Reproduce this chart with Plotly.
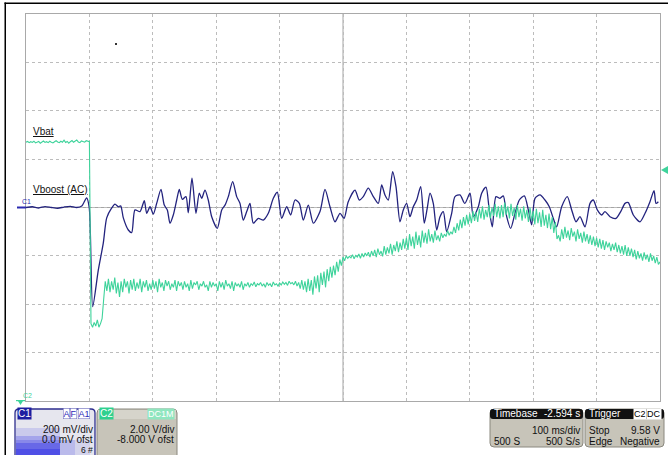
import plotly.graph_objects as go

# ---------------- data ----------------
# C1: Vboost (AC), 200 mV/div ; time in ms across 10 divisions of 100 ms
c1_time_ms = [0, 10, 20, 30, 40, 50, 60, 70, 80, 88,
              95.7, 99.8, 105.2, 114, 121.9, 127.3, 135.2, 140.4, 145.6, 149.4,
              153.5, 161.4, 166.7, 171.9, 179.8, 186.6, 190.4, 195.6, 200.8, 206.1,
              212.9, 218.1, 222.9, 227.1, 232.3, 237.7, 241.8, 246.5, 252.3, 256,
              261.8, 268.1, 273.3, 277.1, 282.3, 287.5, 292.9, 301.7, 308.7, 313.9,
              319.1, 326, 332.3, 337.5, 342.7, 348.1, 353.3, 358.5, 366.4, 374.3,
              382.2, 390.1, 396.4, 403.3, 411.2, 417.5, 424.3, 431.1, 437.4, 445.3,
              453.2, 463.7, 471.6, 479.5, 487.4, 495.3, 501.6, 508.3, 518.9, 525.7,
              532, 539.9, 547.8, 555.7, 561, 566.2, 571.4, 578.3, 583.6, 589.9,
              595.1, 600.4, 605.6, 610.8, 616.2, 622.5, 628.2, 632.9, 637.2, 642.4,
              647.8, 653, 658.2, 663.5, 671.4, 676.6, 684.5, 692.2, 700.3, 705.5,
              713.4, 718.7, 725.5, 730.7, 735.5, 741.3, 747.6, 752.8, 758.2, 764.5,
              771.3, 778.1, 786, 792.3, 797.6, 802.8, 810.7, 818.6, 825.4, 831.7,
              837, 844.9, 853.8, 860.7, 867.5, 873.8, 881.7, 889.6, 894.8, 901.1,
              908, 913.2, 921.1, 930.6, 938, 944.8, 950, 957.9, 968.5, 976.4,
              984.2, 990.6, 993.7, 997.4]
c1_mv = [0, 3, -2, 4, 0, -3, 2, 5, 0, 6,
         40, -2, -410, -259, -147, -43, -2, 14, 3, 7,
         -43, -93, -104, -10, -17, 28, -24, 3, -27, 17,
         75, 10, -10, -65, -31, 31, 75, 34, 45, -22,
         121, -24, 59, 38, 72, 31, -38, -86, -10, 10,
         45, 107, 45, 17, -52, -17, 17, -65, -45, -52,
         -24, 38, 63, -45, 3, -31, 31, 17, -52, 10,
         -65, -17, 75, 3, -59, -24, -45, 24, 72, 31,
         45, 80, 45, 17, 93, 52, 31, 148, 86, -59,
         -10, 17, -38, 3, 31, 86, -65, -3, 59, 17,
         -93, -38, -17, -100, -24, 45, 52, 17, 59, -38,
         3, 59, 84, -10, -80, 45, 38, 48, -38, -86,
         -24, 31, 48, -10, -72, 38, 52, 31, 3, -45,
         -80, 3, 45, -10, -59, -38, -80, 17, 31, -10,
         -31, -17, -38, -45, -17, 17, 20, -31, -59, -24,
         24, 70, 17, 24]

# C2: Vbat, 2 V/div, -8 V offset ; sampled every 2.5 ms from 0 to 1000 ms
c2_t0_ms = 0
c2_dt_ms = 2.5
c2_volts = [
    10.70, 10.73, 10.68, 10.72, 10.69, 10.74, 10.67, 10.71, 10.73, 10.66, 10.70, 10.75, 10.69, 10.72, 10.68, 10.74, 10.70, 10.67, 10.72, 10.76,
    10.71, 10.68, 10.74, 10.70, 10.78, 10.69, 10.73, 10.66, 10.72, 10.77, 10.70, 10.74, 10.79, 10.71, 10.68, 10.75, 10.72, 10.70, 10.76, 10.73,
    10.72, 3.20, 3.05, 3.25, 3.10, 3.35, 3.05, 3.20, 3.40, 4.20, 4.95, 4.55, 5.05, 4.50, 4.95, 4.60, 5.10, 4.45, 4.90, 4.30,
    4.95, 4.50, 5.05, 4.70, 4.95, 4.45, 5.00, 4.60, 5.05, 4.55, 4.90, 4.65, 5.05, 4.50, 4.95, 4.70, 5.00, 4.55, 4.85, 4.60,
    5.00, 4.65, 4.95, 4.50, 5.05, 4.70, 4.90, 4.55, 5.00, 4.75, 4.95, 4.60, 4.85, 4.70, 5.00, 4.55, 4.95, 4.75, 4.90, 4.60,
    4.95, 4.70, 4.85, 4.55, 5.00, 4.65, 4.90, 4.80, 4.95, 4.60, 4.85, 4.75, 4.95, 4.70, 4.80, 4.55, 4.95, 4.70, 4.90, 4.75,
    4.85, 4.55, 4.95, 4.70, 4.90, 4.60, 5.00, 4.75, 4.85, 4.65, 4.95, 4.55, 4.90, 4.75, 4.85, 4.70, 4.95, 4.60, 4.85, 4.75,
    4.90, 4.70, 4.85, 4.78, 4.92, 4.72, 4.85, 4.80, 4.90, 4.75, 4.85, 4.70, 4.90, 4.78, 4.85, 4.72, 4.92, 4.80, 4.85, 4.75,
    4.88, 4.80, 4.92, 4.82, 4.90, 4.78, 4.95, 4.85, 4.90, 4.80, 4.95, 4.75, 4.90, 4.65, 5.00, 4.60, 4.95, 4.50, 5.05, 4.55,
    5.00, 4.40, 5.15, 4.65, 5.20, 4.50, 5.30, 4.80, 5.35, 4.70, 5.45, 4.95, 5.55, 5.10, 5.60, 5.20, 5.75, 5.35, 5.85, 5.60,
    5.95, 5.80, 6.00, 5.90, 5.98, 5.92, 6.05, 5.88, 6.02, 5.95, 6.08, 5.90, 6.10, 5.95, 6.12, 6.00, 6.15, 5.95, 6.20, 6.00,
    6.25, 5.95, 6.30, 6.05, 6.20, 5.98, 6.40, 6.05, 6.35, 6.10, 6.50, 6.05, 6.45, 6.20, 6.60, 6.15, 6.55, 6.25, 6.70, 6.30,
    6.75, 6.25, 6.90, 6.40, 6.80, 6.30, 7.00, 6.45, 6.85, 6.35, 7.05, 6.55, 6.95, 6.50, 7.10, 6.60, 6.90, 6.55, 7.05, 6.65,
    6.85, 6.60, 6.95, 6.75, 6.90, 6.80, 7.05, 6.85, 7.00, 6.90, 7.20, 6.95, 7.35, 7.05, 7.50, 7.15, 7.60, 7.25, 7.70, 7.30,
    7.75, 7.35, 7.85, 7.45, 7.80, 7.40, 7.95, 7.55, 8.05, 7.50, 7.90, 7.60, 8.10, 7.55, 8.00, 7.65, 8.15, 7.60, 8.05, 7.55,
    8.10, 7.60, 8.20, 7.70, 8.05, 7.55, 8.15, 7.65, 8.00, 7.50, 8.10, 7.60, 7.95, 7.45, 8.05, 7.55, 7.90, 7.40, 8.00, 7.45,
    7.85, 7.30, 7.95, 7.35, 7.80, 7.20, 7.90, 7.25, 7.70, 7.15, 7.75, 7.10, 7.60, 6.95, 7.40, 6.70, 6.85, 6.60, 7.10, 6.70,
    7.20, 6.75, 7.05, 6.65, 7.15, 6.80, 7.00, 6.60, 7.10, 6.70, 6.95, 6.55, 7.00, 6.60, 6.90, 6.50, 6.85, 6.45, 6.80, 6.40,
    6.75, 6.35, 6.70, 6.30, 6.65, 6.25, 6.60, 6.35, 6.55, 6.20, 6.50, 6.25, 6.55, 6.15, 6.45, 6.10, 6.40, 6.05, 6.45, 6.00,
    6.35, 6.00, 6.30, 5.95, 6.25, 5.85, 6.20, 5.90, 6.10, 5.80, 6.15, 5.85, 6.05, 5.75, 6.10, 5.80, 6.00, 5.70, 5.95, 5.65,
    5.75]

trace_labels = ["Vbat", "Vboost (AC)"]
c1_info = ["200 mV/div", "0.0 mV ofst", "6 #"]
c2_info = ["2.00 V/div", "-8.000 V ofst"]
timebase_info = ["Timebase", "-2.594 s", "100 ms/div", "500 S", "500 S/s"]
trigger_info = ["Trigger", "Stop", "9.58 V", "Edge", "Negative"]

# ---------------- layout geometry (pixels) ----------------
W, H = 668, 455
L, R, T, B = 26, 8, 14, 54
PW, PH = W - L - R, H - T - B
FONT = "Liberation Sans, Arial, sans-serif"
BLUE = "#23237e"
GREEN = "#3ed39b"


def X(px):
    return (px - L) / PW


def Y(py):
    return (H - B - py) / PH


def rrect(x0, y0, x1, y1, r):
    return (f"M{X(x0 + r)},{Y(y0)} L{X(x1 - r)},{Y(y0)} Q{X(x1)},{Y(y0)} {X(x1)},{Y(y0 + r)} "
            f"L{X(x1)},{Y(y1 - r)} Q{X(x1)},{Y(y1)} {X(x1 - r)},{Y(y1)} "
            f"L{X(x0 + r)},{Y(y1)} Q{X(x0)},{Y(y1)} {X(x0)},{Y(y1 - r)} "
            f"L{X(x0)},{Y(y0 + r)} Q{X(x0)},{Y(y0)} {X(x0 + r)},{Y(y0)} Z")


def prect(x0, y0, x1, y1, fill, **kw):
    return dict(type="rect", xref="paper", yref="paper", x0=X(x0), x1=X(x1), y0=Y(y1), y1=Y(y0),
                fillcolor=fill, line=dict(width=0), **kw)


fig = go.Figure()
fig.add_trace(go.Scatter(x0=c2_t0_ms, dx=c2_dt_ms, y=c2_volts, yaxis="y2", mode="lines",
                         line=dict(color=GREEN, width=1.1), hoverinfo="skip"))
fig.add_trace(go.Scatter(x=c1_time_ms, y=c1_mv, mode="lines",
                         line=dict(color=BLUE, width=1.3, shape="spline", smoothing=0.7),
                         hoverinfo="skip"))

grid = dict(showgrid=True, gridcolor="#bcbcbc", griddash="dot", gridwidth=1,
            showline=True, linecolor="#a9a9a9", linewidth=1, mirror=True,
            zeroline=False, showticklabels=False, ticks="")
tickax = dict(showgrid=False, zeroline=False, showline=False, showticklabels=False,
              ticklen=2, tickwidth=1, tickcolor="#a0a0a0", tickmode="linear")

shapes = []
annotations = []

# centre cross lines
shapes.append(dict(type="line", xref="x", yref="paper", x0=500, x1=500, y0=0, y1=1,
                   line=dict(color="#a4a4a4", width=1), layer="below"))
shapes.append(dict(type="line", xref="paper", yref="y", x0=0, x1=1, y0=0, y1=0,
                   line=dict(color="#a4a4a4", width=1), layer="below"))

# outer frame of the screenshot (left and top black borders)
shapes.append(prect(4.5, 2.5, 6, 460, "black"))
shapes.append(prect(4.5, 2.5, 670, 4, "black"))

# trace labels
annotations.append(dict(x=X(31), y=Y(131), text=f"<u>{trace_labels[0]}</u>", xanchor="left"))
annotations.append(dict(x=X(31), y=Y(190), text=f"<u>{trace_labels[1]}</u>", xanchor="left"))

# C1 marker at left
shapes.append(prect(17, 206.5, 26, 208.5, "#2a2ab0"))
annotations.append(dict(x=X(19.5), y=Y(201), text="C1", font=dict(size=7, color="#2a2ab0", family=FONT)))
# C2 ground marker
annotations.append(dict(x=X(20.5), y=Y(395), text="C2", font=dict(size=7, color=GREEN, family=FONT)))
shapes.append(prect(16, 400, 25, 401.2, GREEN))
shapes.append(dict(type="path", xref="paper", yref="paper",
                   path=f"M{X(18)},{Y(401)} L{X(23)},{Y(401)} L{X(20.5)},{Y(405)} Z",
                   fillcolor=GREEN, line=dict(width=0)))
# trigger level marker on right
shapes.append(dict(type="path", xref="paper", yref="paper",
                   path=f"M{X(668)},{Y(166)} L{X(668)},{Y(174)} L{X(661)},{Y(170)} Z",
                   fillcolor=GREEN, line=dict(width=0)))
# small speck
shapes.append(prect(115, 43, 117, 45, "#333"))

# ---- C1 info box ----
shapes.append(dict(type="path", xref="paper", yref="paper", path=rrect(15, 409, 95, 462, 4),
                   fillcolor="#e6e6ee", line=dict(color="#2e2e8e", width=1.3)))
for y0, op in [(428, 0.15), (436, 0.25), (443, 0.35), (449, 0.45)]:
    shapes.append(prect(16, y0, 60, 456, f"rgba(50,50,230,{op})"))
for x1, op in [(75, 0.15), (90, 0.1)]:
    shapes.append(prect(16, 440, x1, 456, f"rgba(50,50,230,{op})"))
annotations.append(dict(x=X(17), y=Y(414), text="C1", xanchor="left",
                        font=dict(size=10, color="white", family=FONT), bgcolor="#1d1da0", borderpad=0))
for tx, xx in [("A", 63), ("F", 70), ("A1", 78)]:
    annotations.append(dict(x=X(xx), y=Y(414), text=tx, xanchor="left",
                            font=dict(size=9, color="#2a2ab8", family=FONT), bgcolor="white",
                            bordercolor="#6a6ac0", borderwidth=0.5, borderpad=0))
for ty, txt, fs in [(429.5, c1_info[0], 10), (439.5, c1_info[1], 10), (449.8, c1_info[2], 8.5)]:
    annotations.append(dict(x=X(94), y=Y(ty), text=txt, xanchor="right", borderpad=0,
                            font=dict(size=fs, color="#111", family=FONT)))

# ---- C2 info box ----
shapes.append(dict(type="path", xref="paper", yref="paper", path=rrect(97, 409, 177, 462, 4),
                   fillcolor="#c7c4b9", line=dict(color="#8a887e", width=1)))
shapes.append(prect(98, 410, 176, 419, "#d6d4cb"))
annotations.append(dict(x=X(99), y=Y(414), text="C2", xanchor="left",
                        font=dict(size=10, color="white", family=FONT), bgcolor="#2fd08f", borderpad=0))
annotations.append(dict(x=X(175), y=Y(414), text="DC1M", xanchor="right",
                        font=dict(size=9, color="white", family=FONT), bgcolor="#8fe6bf", borderpad=0))
for i, ty in enumerate([429.5, 439.5]):
    annotations.append(dict(x=X(176), y=Y(ty), text=c2_info[i], xanchor="right"))

# ---- Timebase box ----
shapes.append(dict(type="path", xref="paper", yref="paper", path=rrect(490, 409, 583, 447, 4),
                   fillcolor="#c7c4b9", line=dict(color="#8a887e", width=1)))
shapes.append(dict(type="path", xref="paper", yref="paper", path=rrect(490, 409, 583, 419, 3),
                   fillcolor="#111111", line=dict(width=0)))
annotations.append(dict(x=X(492), y=Y(414), text=timebase_info[0], xanchor="left",
                        font=dict(size=10, color="white", family=FONT)))
annotations.append(dict(x=X(582), y=Y(414), text=timebase_info[1], xanchor="right",
                        font=dict(size=10, color="white", family=FONT)))
annotations.append(dict(x=X(582), y=Y(430), text=timebase_info[2], xanchor="right"))
annotations.append(dict(x=X(492), y=Y(441), text=timebase_info[3], xanchor="left"))
annotations.append(dict(x=X(582), y=Y(441), text=timebase_info[4], xanchor="right"))

# ---- Trigger box ----
shapes.append(dict(type="path", xref="paper", yref="paper", path=rrect(585, 409, 664, 447, 4),
                   fillcolor="#c7c4b9", line=dict(color="#8a887e", width=1)))
shapes.append(dict(type="path", xref="paper", yref="paper", path=rrect(585, 409, 664, 419, 3),
                   fillcolor="#111111", line=dict(width=0)))
annotations.append(dict(x=X(587), y=Y(414), text=trigger_info[0], xanchor="left",
                        font=dict(size=10, color="white", family=FONT)))
annotations.append(dict(x=X(633), y=Y(414), text="C2", xanchor="left",
                        font=dict(size=9, color="black", family=FONT), bgcolor="white", borderpad=0))
annotations.append(dict(x=X(662), y=Y(414), text="DC", xanchor="right",
                        font=dict(size=9, color="black", family=FONT), bgcolor="white", borderpad=0))
annotations.append(dict(x=X(587), y=Y(430), text=trigger_info[1], xanchor="left"))
annotations.append(dict(x=X(662), y=Y(430), text=trigger_info[2], xanchor="right"))
annotations.append(dict(x=X(587), y=Y(441), text=trigger_info[3], xanchor="left"))
annotations.append(dict(x=X(662), y=Y(441), text=trigger_info[4], xanchor="right"))

for a in annotations:
    a.setdefault("xref", "paper")
    a.setdefault("yref", "paper")
    a.setdefault("showarrow", False)
    a.setdefault("yanchor", "middle")
    a.setdefault("font", dict(size=10, color="#111", family=FONT))

fig.update_layout(
    width=W, height=H,
    margin=dict(l=L, r=R, t=T, b=B, pad=0),
    paper_bgcolor="white", plot_bgcolor="white",
    showlegend=False,
    font=dict(family=FONT, size=10, color="#111"),
    xaxis=dict(range=[0, 1000], tick0=0, dtick=100, **grid),
    yaxis=dict(range=[-800, 800], tick0=0, dtick=200, **grid),
    yaxis2=dict(overlaying="y", range=[0, 16], visible=False),
    xaxis2=dict(overlaying="x", anchor="free", position=0.5, range=[0, 1000], tick0=0, dtick=20,
                ticks="outside", **tickax),
    xaxis3=dict(overlaying="x", anchor="free", position=0.5, range=[0, 1000], tick0=0, dtick=20,
                ticks="inside", **tickax),
    yaxis3=dict(overlaying="y", anchor="free", position=0.5, range=[-800, 800], tick0=0, dtick=40,
                ticks="outside", **tickax),
    yaxis4=dict(overlaying="y", anchor="free", position=0.5, range=[-800, 800], tick0=0, dtick=40,
                ticks="inside", **tickax),
    shapes=shapes,
    annotations=annotations,
)

fig.write_html("out.html", config={"displayModeBar": False, "staticPlot": True},
               post_script="document.body.style.margin='0px';document.body.style.padding='0px';")
